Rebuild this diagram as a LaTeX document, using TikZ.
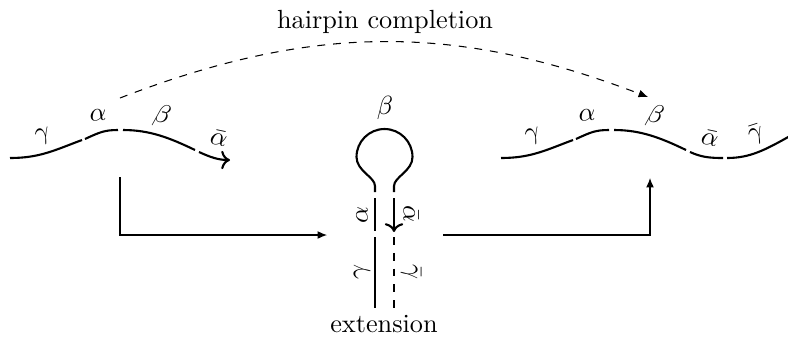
\documentclass[tikz,border=0pt]{standalone}
\usetikzlibrary{arrows.meta}

\tikzset{
  strand/.style={thick},
  lab/.style={inner sep=0pt},
  flow/.style={-{Latex[length=3.6pt, width=3pt]}}
}

\begin{document}
\begin{tikzpicture}[x=0.381pt, y=0.381pt]
    \useasboundingbox (0,0) rectangle (788,337);

        % Titolo
        \node (title) at (385,315) {hairpin completion};

        % Filamento sinistro
        \draw[strand] (10,179) .. controls (40,179) and (55,187) .. (82,197);
        \draw[strand] (85,198) .. controls (100,205) and (105,207) .. (118,207);
        \draw[strand] (123,207) .. controls (150,207) and (170,199) .. (195,187);
        \draw[strand, ->] (199,185) .. controls (210,180) and (218,177) .. (230,177);

        \node[lab, rotate=15] (lg) at (43,200) {$\gamma$};
        \node[lab, rotate=5] (la) at (98,222) {$\alpha$};
        \node[lab, rotate=-15] (lb) at (162,221) {$\beta$};
        \node[lab, rotate=-12] (lab) at (219,199) {$\bar{\alpha}$};

        % Forcina
        \draw[strand] (375,145) -- (375,151)
            .. controls (375,160) and (356.5,166) .. (356.5,180)
            arc[start angle=180, end angle=0, radius=28]
            .. controls (412.5,166) and (394,160) .. (394,151) -- (394,145);
        \draw[strand] (375,139) -- (375,106);
        \draw[strand] (375,100) -- (375,29);
        \draw[strand, ->] (394,139) -- (394,105);
        \draw[strand, dashed] (394,100) -- (394,29);

        \node[lab] (hb) at (385,229) {$\beta$};
        \node[lab, rotate=90] (ha) at (362,122) {$\alpha$};
        \node[lab, rotate=90] (hg) at (362,65) {$\gamma$};
        \node[lab, rotate=-90] (hab) at (411,123) {$\bar{\alpha}$};
        \node[lab, rotate=-90] (hgb) at (411,65) {$\bar{\gamma}$};
        \node (ext) at (384,13) {extension};

        % Filamento destro
        \draw[strand] (501,179) .. controls (531,179) and (546,187) .. (573,197);
        \draw[strand] (576,198) .. controls (591,205) and (596,207) .. (609,207);
        \draw[strand] (614,207) .. controls (641,207) and (661,199) .. (686,187);
        \draw[strand] (690,185) .. controls (701,180) and (709,179) .. (723,179);
        \draw[strand] (727,179) .. controls (750,179) and (765,187) .. (790,201);

        \node[lab, rotate=15] (rg) at (533,200) {$\gamma$};
        \node[lab, rotate=5] (ra) at (587,222) {$\alpha$};
        \node[lab, rotate=-15] (rb) at (655,221) {$\beta$};
        \node[lab, rotate=-12] (rab) at (710,199) {$\bar{\alpha}$};
        \node[lab, rotate=18] (rgb) at (756,202) {$\bar{\gamma}$};

        % Frecce
        \coordinate (lout) at (120,160);
        \coordinate (hin) at (327,102);
        \coordinate (hout) at (443,102);
        \coordinate (rin) at (650,159);
        \coordinate (lup) at (120,239);
        \coordinate (rdown) at (648,240);

        \draw[flow] (lout) |- (hin);
        \draw[flow] (hout) -| (rin);
        \draw[flow, dashed] (lup) to[bend left=21] (rdown);

\end{tikzpicture}
\end{document}
